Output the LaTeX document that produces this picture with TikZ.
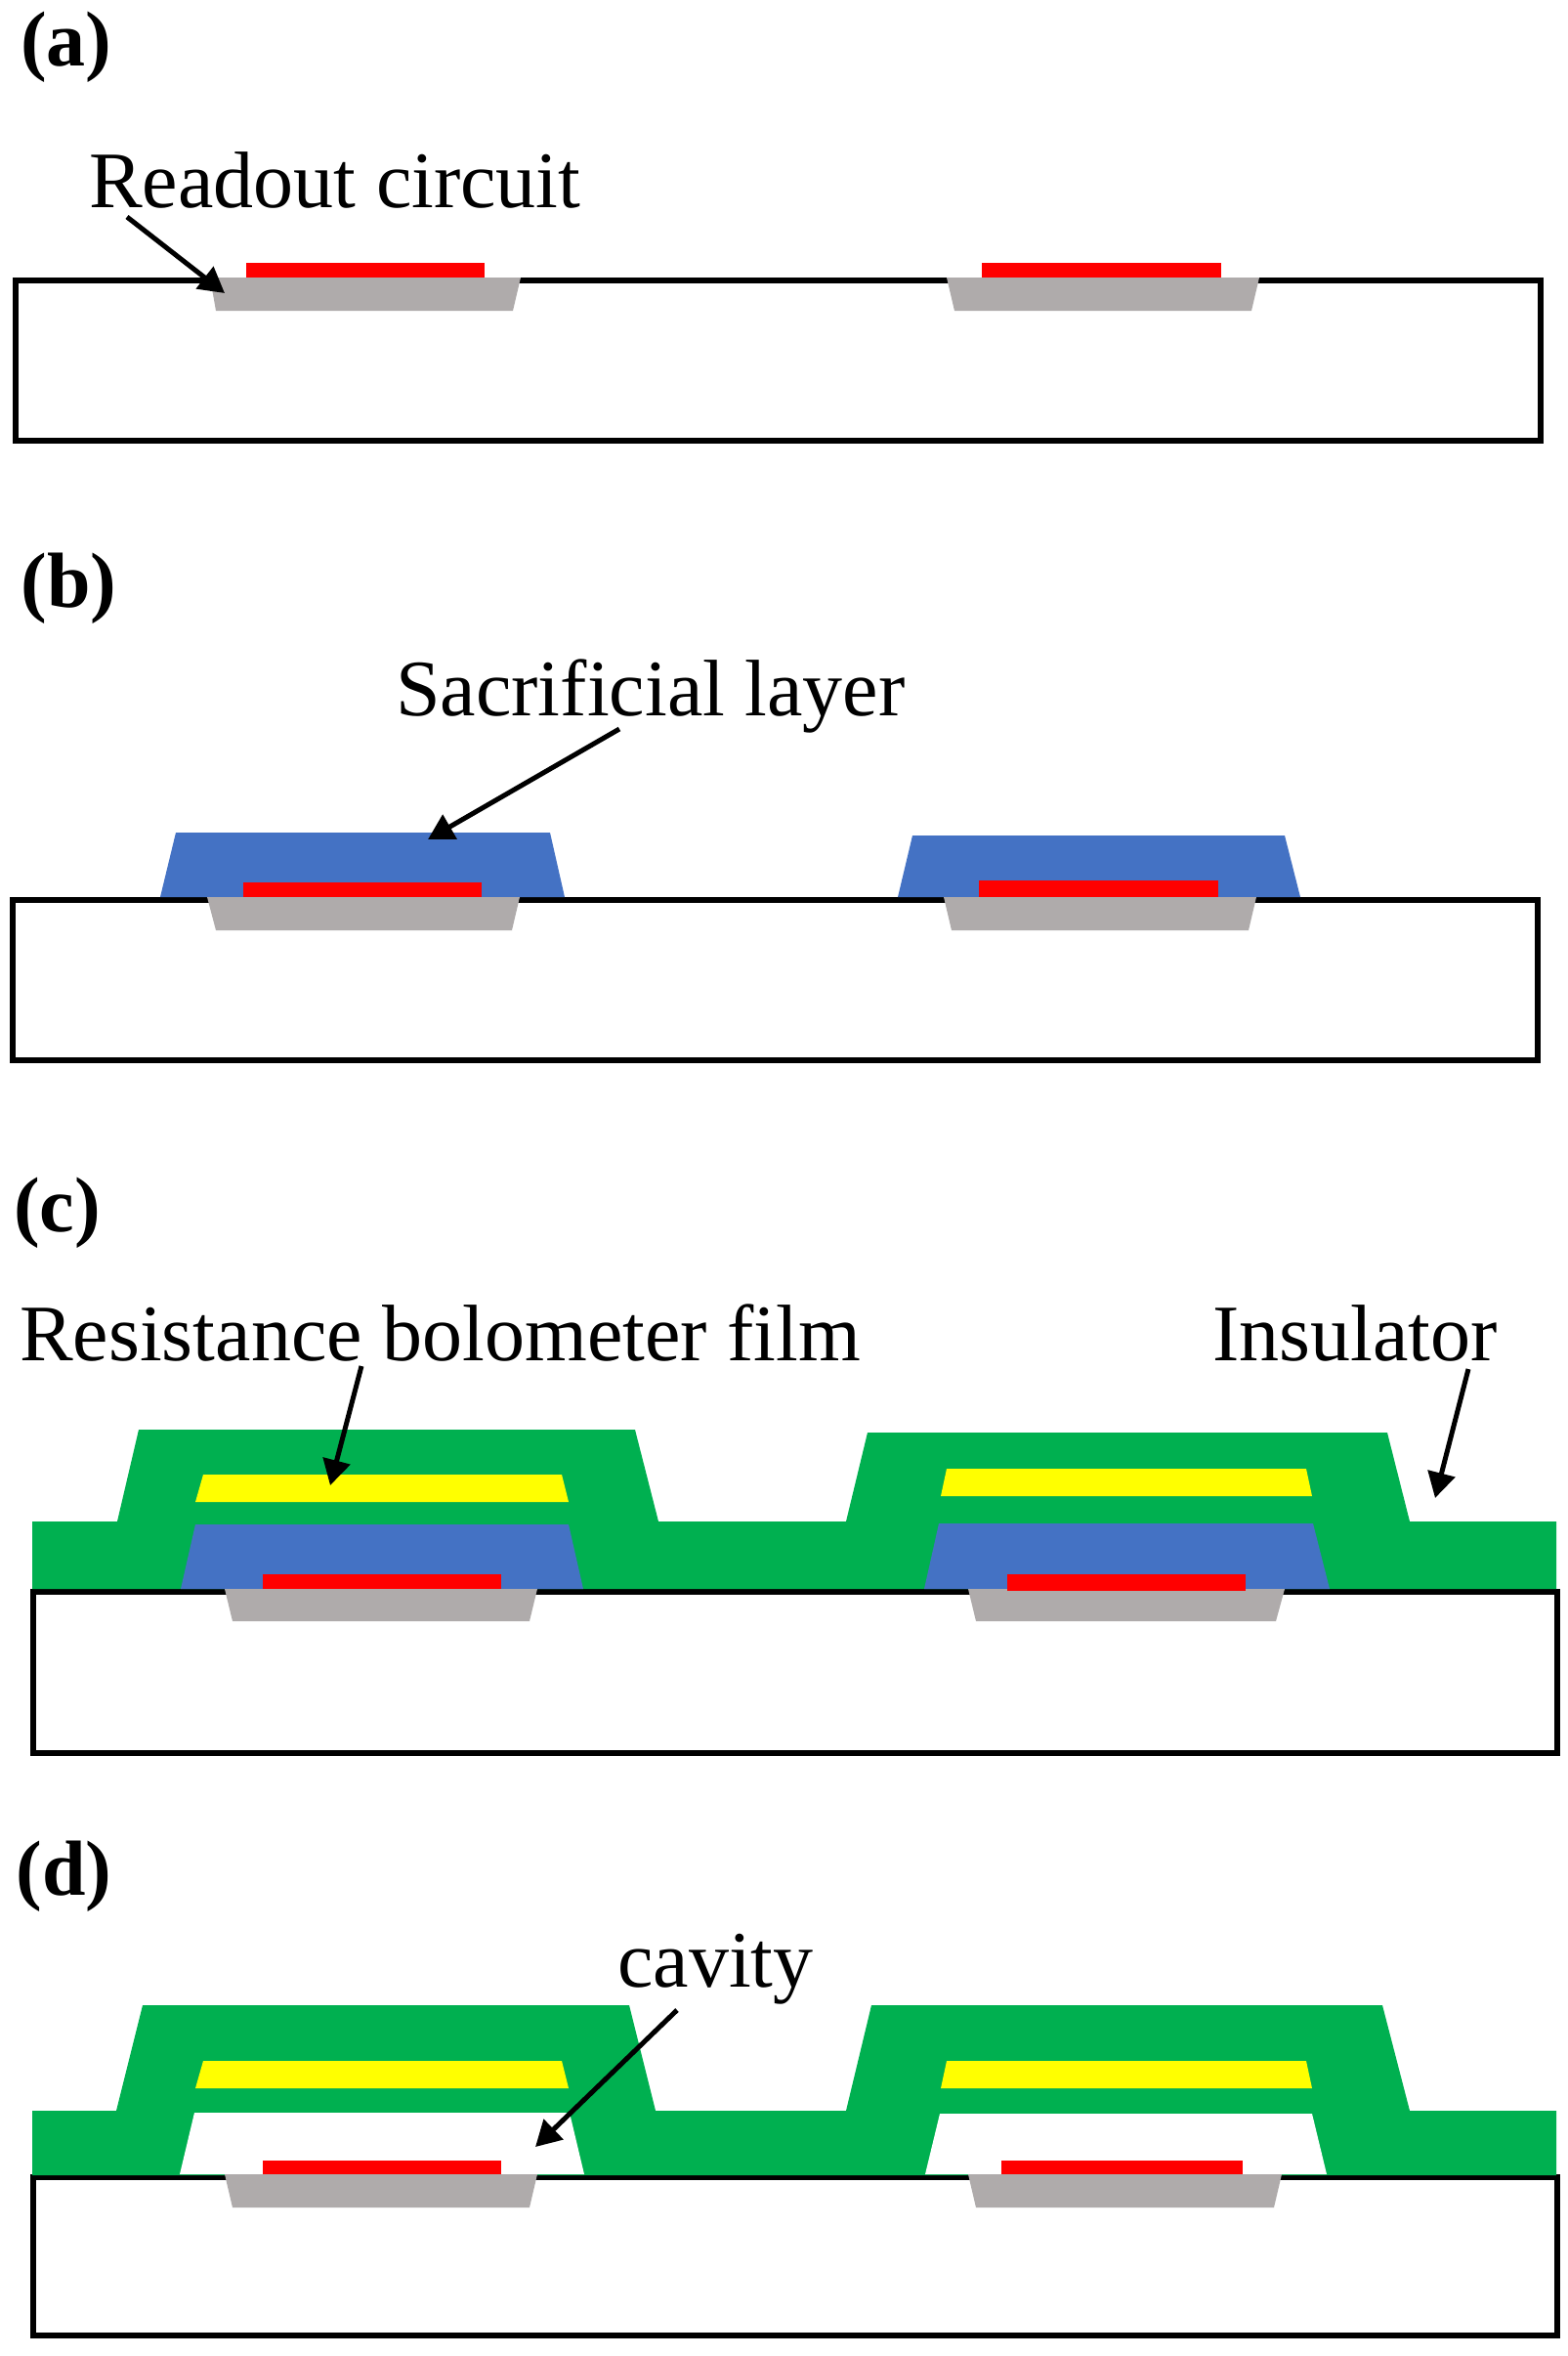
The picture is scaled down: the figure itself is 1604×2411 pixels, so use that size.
\documentclass[tikz,border=0pt]{standalone}
\usepackage{fontspec}
\setmainfont{Liberation Serif}
\usetikzlibrary{arrows.meta}
\definecolor{insulatorgreen}{HTML}{00B050}
\definecolor{sacblue}{HTML}{4472C4}
\definecolor{readoutgrey}{HTML}{AFABAB}
\definecolor{metalred}{HTML}{FF0000}
\definecolor{filmyellow}{HTML}{FFFF00}
\tikzset{
    substrate/.style={draw=black, line width=6pt, fill=white},
    readout/.style={fill=readoutgrey},
    metal/.style={fill=metalred},
    sacrificial/.style={fill=sacblue},
    insulator/.style={fill=insulatorgreen},
    film/.style={fill=filmyellow},
    cavityfill/.style={fill=white},
    pointer/.style={line width=5pt, -{Triangle[width=28pt,length=26pt]}},
    steplabel/.style={anchor=base west, inner sep=0pt, font=\fontsize{80}{90}\selectfont\bfseries},
    partlabel/.style={anchor=base west, inner sep=0pt, font=\fontsize{82}{90}\selectfont},
}
\begin{document}
\begin{tikzpicture}[x=1pt, y=-1pt]
    \useasboundingbox (0, 0) rectangle (1604, 2411);

    %%step a
    \draw[substrate] (16, 287) rectangle (1576.5, 451);
        \fill[readout] (215, 284) -- (533, 284) -- (525, 318) -- (221, 318) -- cycle;
        \fill[metal] (252, 269) rectangle (496, 284);
        \fill[readout] (969, 284) -- (1289, 284) -- (1281, 318) -- (977, 318) -- cycle;
        \fill[metal] (1005, 269) rectangle (1250, 284);
    \node[steplabel] (labela) at (21, 68) {(a)};
    \node[partlabel] (readoutlabel) at (91, 212) {Readout circuit};
    \coordinate (readoutfrom) at (130, 222);
    \coordinate (readouttip) at (230, 300);
    \draw[pointer] (readoutfrom) to (readouttip);

    %%step b
    \draw[substrate] (13, 920.5) rectangle (1573.5, 1085);
        \fill[sacrificial] (180, 852) -- (563, 852) -- (578, 918) -- (164, 918) -- cycle;
        \fill[readout] (212, 918) -- (532, 918) -- (524, 952) -- (221, 952) -- cycle;
        \fill[metal] (249, 903) rectangle (493, 918);
        \fill[sacrificial] (934, 855) -- (1315, 855) -- (1331, 918) -- (919, 918) -- cycle;
        \fill[readout] (966, 918) -- (1286, 918) -- (1278, 952) -- (974, 952) -- cycle;
        \fill[metal] (1002, 901) rectangle (1247, 918);
    \node[steplabel] (labelb) at (21.5, 621) {(b)};
    \node[partlabel] (saclabel) at (405, 732) {Sacrificial layer};
    \coordinate (sacfrom) at (634, 746);
    \coordinate (sactip) at (438, 859);
    \draw[pointer] (sacfrom) to (sactip);

    %%step c
    \draw[substrate] (33.5, 1628.5) rectangle (1593.5, 1793.5);
        \fill[insulator] (33, 1626) -- (33, 1557) -- (120, 1557) -- (142, 1463) -- (650, 1463) -- (674, 1557)
            -- (866, 1557) -- (888, 1466) -- (1420, 1466) -- (1443, 1557) -- (1593, 1557) -- (1593, 1626) -- cycle;
        \fill[film] (208, 1509) -- (575, 1509) -- (582, 1537) -- (200, 1537) -- cycle;
        \fill[sacrificial] (200, 1560) -- (582, 1560) -- (597, 1626) -- (185, 1626) -- cycle;
        \fill[readout] (230, 1626) -- (550, 1626) -- (542, 1659) -- (238, 1659) -- cycle;
        \fill[metal] (269, 1611) rectangle (513, 1626);
        \fill[film] (969, 1503) -- (1337, 1503) -- (1343, 1531) -- (963, 1531) -- cycle;
        \fill[sacrificial] (961, 1559) -- (1344, 1559) -- (1361, 1626) -- (946, 1626) -- cycle;
        \fill[readout] (991, 1626) -- (1315, 1626) -- (1306, 1659) -- (999, 1659) -- cycle;
        \fill[metal] (1031, 1611) rectangle (1275, 1628);
    \node[steplabel] (labelc) at (14, 1260) {(c)};
    \node[partlabel] (filmlabel) at (20, 1392) {Resistance bolometer film};
    \node[partlabel] (insulatorlabel) at (1241, 1392) {Insulator};
    \coordinate (filmfrom) at (370, 1398);
    \coordinate (filmtip) at (338, 1520);
    \coordinate (insulatorfrom) at (1503, 1401);
    \coordinate (insulatortip) at (1469, 1533);
    \draw[pointer] (filmfrom) to (filmtip);
    \draw[pointer] (insulatorfrom) to (insulatortip);

    %%step d
    \draw[substrate] (33.5, 2228) rectangle (1593.5, 2390);
        \fill[insulator] (33, 2226) -- (33, 2160) -- (119, 2160) -- (146, 2052) -- (644, 2052) -- (671, 2160)
            -- (866, 2160) -- (892, 2052) -- (1415, 2052) -- (1443, 2160) -- (1593, 2160) -- (1593, 2226) -- cycle;
        \fill[film] (208, 2109) -- (575, 2109) -- (582, 2137) -- (200, 2137) -- cycle;
        \fill[cavityfill] (199, 2162) -- (583, 2162) -- (598, 2225) -- (184, 2225) -- cycle;
        \fill[readout] (230, 2225) -- (550, 2225) -- (542, 2259) -- (238, 2259) -- cycle;
        \fill[metal] (269, 2211) rectangle (513, 2225);
        \fill[film] (969, 2109) -- (1337, 2109) -- (1343, 2137) -- (963, 2137) -- cycle;
        \fill[cavityfill] (962, 2163) -- (1343, 2163) -- (1358, 2225) -- (947, 2225) -- cycle;
        \fill[readout] (991, 2225) -- (1312, 2225) -- (1304, 2259) -- (999, 2259) -- cycle;
        \fill[metal] (1025, 2211) rectangle (1272, 2225);
    \node[steplabel] (labeld) at (16.5, 1939) {(d)};
    \node[partlabel] (cavitylabel) at (632, 2033) {cavity};
    \coordinate (cavityfrom) at (693, 2057);
    \coordinate (cavitytip) at (548, 2197);
    \draw[pointer] (cavityfrom) to (cavitytip);
\end{tikzpicture}
\end{document}
